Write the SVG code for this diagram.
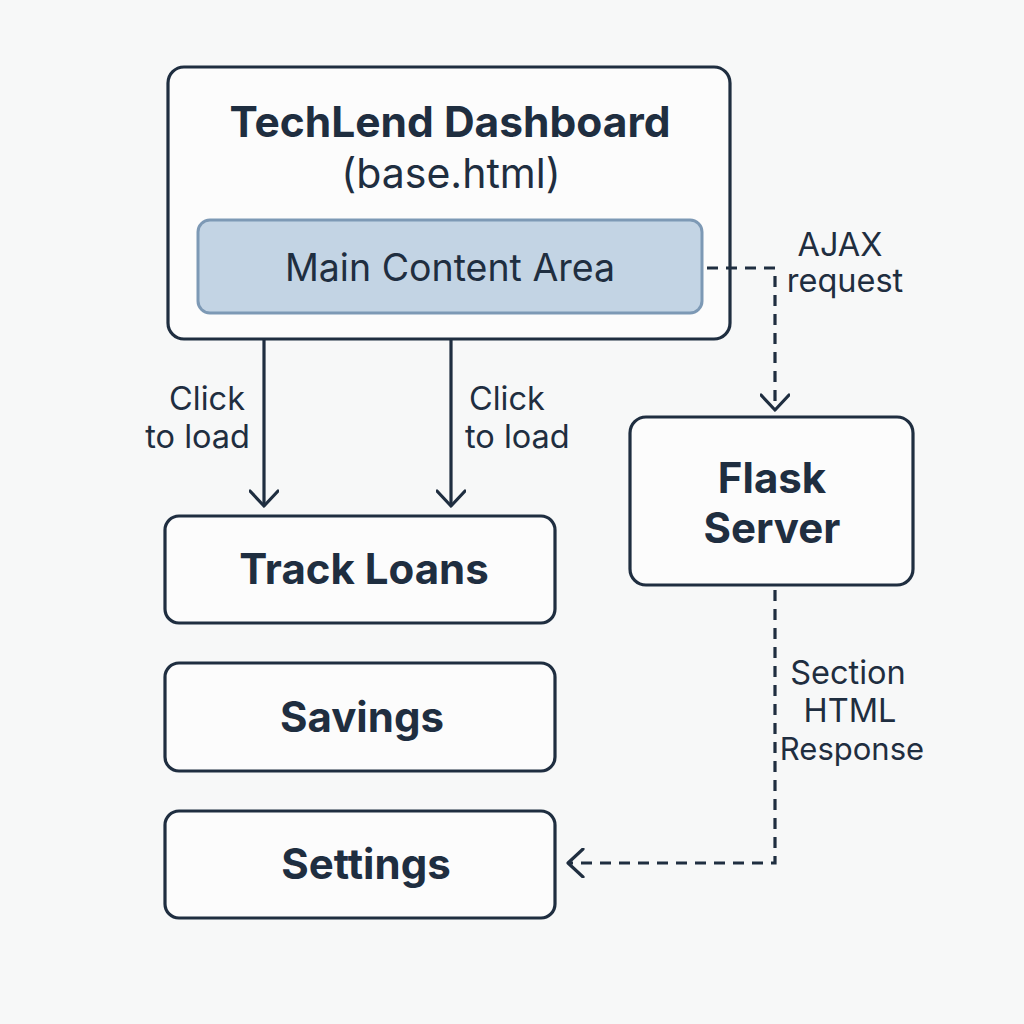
<svg xmlns="http://www.w3.org/2000/svg" width="1024" height="1024" viewBox="0 0 1024 1024">
<style>
.box{fill:#fcfcfc;stroke:#1f2e40;stroke-width:3.2}
.inner{fill:#c3d4e4;stroke:#7d99b5;stroke-width:3}
.t{font-family:Inter,"Liberation Sans",sans-serif;fill:#1f2e40;text-anchor:middle}
.b{font-weight:bold}
.lbl{font-family:Inter,"Liberation Sans",sans-serif;fill:#1f2e40;font-size:32.5px}
.ln{fill:none;stroke:#1f2e40;stroke-width:3.2}
.dash{stroke-dasharray:11 8}
</style>
<defs>
<marker id="ah" viewBox="0 0 30 30" refX="28" refY="15" markerWidth="30" markerHeight="30" markerUnits="userSpaceOnUse" orient="auto">
<path d="M13 1 L28 15 L13 29" fill="none" stroke="#1f2e40" stroke-width="3.2" stroke-linecap="round" stroke-linejoin="round"/>
</marker>
</defs>
<rect width="1024" height="1024" fill="#f7f8f8"/>
<g id="dashboard">
<rect class="box" x="168" y="67" width="562" height="272" rx="16"/>
<text class="t b" x="450" y="137" font-size="42.5">TechLend Dashboard</text>
<text class="t" x="451" y="188" font-size="41">(base.html)</text>
</g>
<g id="main-content">
<rect class="inner" x="198" y="220" width="504" height="93" rx="12"/>
<text class="t" x="450" y="281" font-size="37.5">Main Content Area</text>
</g>
<g id="track-loans">
<rect class="box" x="165" y="516" width="390" height="107" rx="14"/>
<text class="t b" x="364" y="584" font-size="42">Track Loans</text>
</g>
<g id="savings">
<rect class="box" x="165" y="663" width="390" height="108" rx="14"/>
<text class="t b" x="362" y="732" font-size="42">Savings</text>
</g>
<g id="settings">
<rect class="box" x="165" y="811" width="390" height="107" rx="14"/>
<text class="t b" x="366" y="879" font-size="42">Settings</text>
</g>
<g id="flask">
<rect class="box" x="630" y="417" width="283" height="168" rx="16"/>
<text class="t b" x="772" y="493" font-size="42">Flask</text>
<text class="t b" x="772" y="543" font-size="42">Server</text>
</g>
<g id="connectors">
<line class="ln" x1="264" y1="339" x2="264" y2="506" marker-end="url(#ah)"/>
<line class="ln" x1="451" y1="339" x2="451" y2="506" marker-end="url(#ah)"/>
<path class="ln dash" d="M707 268 H775 V410" marker-end="url(#ah)"/>
<path class="ln dash" d="M775 590 V863 H568" marker-end="url(#ah)"/>
<g class="lbl">
<text x="245" y="410" text-anchor="end">Click</text>
<text x="250" y="448" text-anchor="end">to load</text>
<text x="469" y="410">Click</text>
<text x="465" y="448">to load</text>
<text x="840" y="256" text-anchor="middle">AJAX</text>
<text x="845" y="292" text-anchor="middle">request</text>
<text x="848" y="684" text-anchor="middle">Section</text>
<text x="850" y="722" text-anchor="middle">HTML</text>
<text x="852" y="760" text-anchor="middle" font-size="31">Response</text>
</g>
</g>
</svg>
